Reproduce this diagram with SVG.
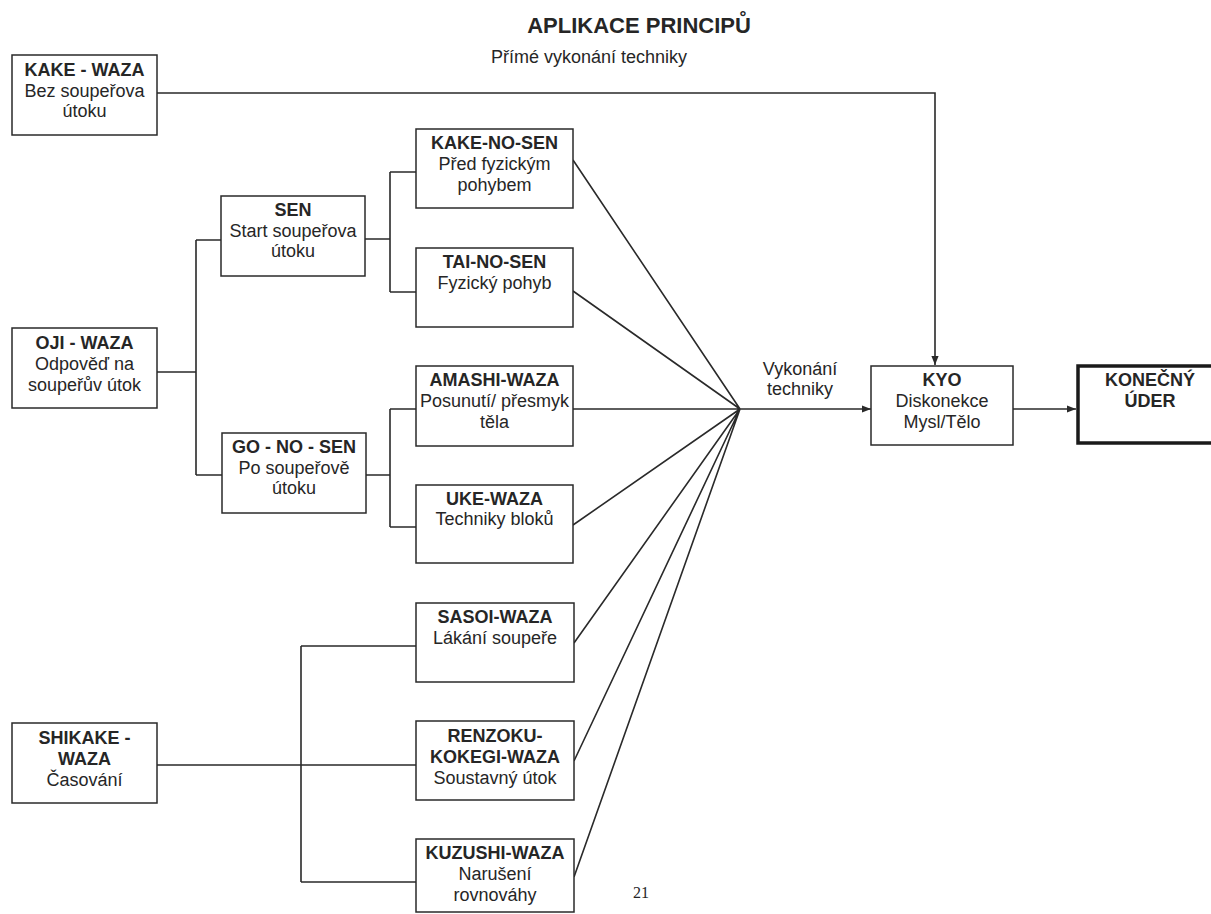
<svg xmlns="http://www.w3.org/2000/svg" width="1211" height="914" viewBox="0 0 1211 914">
<style>
.box{fill:#fff;stroke:#2a2a2a;stroke-width:1.5}
.thick{fill:#fff;stroke:#1a1a1a;stroke-width:3.5}
text{font-family:"Liberation Sans",Arial,sans-serif;font-size:18px;fill:#262626;text-anchor:middle}
.b{font-weight:bold}
.c{fill:none;stroke:#2a2a2a;stroke-width:1.6}
</style>
<defs>
<marker id="ah" viewBox="0 0 10 10" refX="10" refY="5" markerWidth="9" markerHeight="9" markerUnits="userSpaceOnUse" orient="auto">
<path d="M0,1 L10,5 L0,9 z" fill="#2a2a2a"/>
</marker>
</defs>
<rect width="1211" height="914" fill="#fff"/>
<text class="b" x="639" y="33" style="font-size:22px">APLIKACE PRINCIPŮ</text>
<text x="589" y="63">Přímé vykonání techniky</text>
<text x="800" y="375">Vykonání</text>
<text x="800" y="395">techniky</text>
<text x="641" y="898" style="font-family:'Liberation Serif',serif;font-size:16px">21</text>

<g id="connectors">
<path class="c" d="M157,93 H935 V365" marker-end="url(#ah)"/>
<path class="c" d="M157,372 H196 M196,240 V475 M196,240 H221 M196,475 H222"/>
<path class="c" d="M365,239 H390 M390,172 V292 M390,172 H416 M390,292 H416"/>
<path class="c" d="M366,475 H390 M390,409 V527 M390,409 H416 M390,527 H416"/>
<path class="c" d="M157,765 H416 M301,646 V882 M301,646 H416 M301,882 H416"/>
<path class="c" d="M573,160 L740,409 M573,291 L740,409 M573,409 L740,409 M573,525 L740,409 M574,643 L740,409 M574,761 L740,409 M574,877 L740,409"/>
<path class="c" d="M740,409 H871" marker-end="url(#ah)"/>
<path class="c" d="M1013,409 H1076" marker-end="url(#ah)"/>
</g>

<g id="kake-waza"><rect class="box" x="12" y="55" width="145" height="80"/>
<text class="b" x="84.5" y="76">KAKE - WAZA</text><text x="84.5" y="97">Bez soupeřova</text><text x="84.5" y="117">útoku</text></g>

<g id="oji-waza"><rect class="box" x="12" y="328" width="145" height="80"/>
<text class="b" x="84.5" y="349">OJI - WAZA</text><text x="84.5" y="370">Odpověď na</text><text x="84.5" y="391">soupeřův útok</text></g>

<g id="shikake-waza"><rect class="box" x="12" y="723" width="145" height="80"/>
<text class="b" x="84.5" y="744">SHIKAKE -</text><text class="b" x="84.5" y="765">WAZA</text><text x="84.5" y="786">Časování</text></g>

<g id="sen"><rect class="box" x="221" y="196" width="144" height="80"/>
<text class="b" x="293" y="216">SEN</text><text x="293" y="237">Start soupeřova</text><text x="293" y="257">útoku</text></g>

<g id="go-no-sen"><rect class="box" x="222" y="433" width="144" height="80"/>
<text class="b" x="294" y="453">GO - NO - SEN</text><text x="294" y="474">Po soupeřově</text><text x="294" y="494">útoku</text></g>

<g id="kake-no-sen"><rect class="box" x="416" y="129" width="157" height="79"/>
<text class="b" x="494.5" y="149">KAKE-NO-SEN</text><text x="494.5" y="170">Před fyzickým</text><text x="494.5" y="191">pohybem</text></g>

<g id="tai-no-sen"><rect class="box" x="416" y="248" width="157" height="79"/>
<text class="b" x="494.5" y="268">TAI-NO-SEN</text><text x="494.5" y="289">Fyzický pohyb</text></g>

<g id="amashi-waza"><rect class="box" x="416" y="366" width="157" height="80"/>
<text class="b" x="494.5" y="386">AMASHI-WAZA</text><text x="494.5" y="407">Posunutí/ přesmyk</text><text x="494.5" y="428">těla</text></g>

<g id="uke-waza"><rect class="box" x="416" y="485" width="157" height="78"/>
<text class="b" x="494.5" y="505">UKE-WAZA</text><text x="494.5" y="525">Techniky bloků</text></g>

<g id="sasoi-waza"><rect class="box" x="416" y="603" width="158" height="79"/>
<text class="b" x="495" y="623">SASOI-WAZA</text><text x="495" y="644">Lákání soupeře</text></g>

<g id="renzoku"><rect class="box" x="416" y="721" width="158" height="79"/>
<text class="b" x="495" y="742">RENZOKU-</text><text class="b" x="495" y="763">KOKEGI-WAZA</text><text x="495" y="784">Soustavný útok</text></g>

<g id="kuzushi-waza"><rect class="box" x="416" y="839" width="158" height="73"/>
<text class="b" x="495" y="859">KUZUSHI-WAZA</text><text x="495" y="880">Narušení</text><text x="495" y="901">rovnováhy</text></g>

<g id="kyo"><rect class="box" x="871" y="366" width="142" height="79"/>
<text class="b" x="942" y="386">KYO</text><text x="942" y="407">Diskonekce</text><text x="942" y="428">Mysl/Tělo</text></g>

<g id="konecny-uder"><rect class="thick" x="1078" y="366" width="140" height="77"/>
<text class="b" x="1150" y="386">KONEČNÝ</text><text class="b" x="1150" y="407">ÚDER</text></g>
</svg>
